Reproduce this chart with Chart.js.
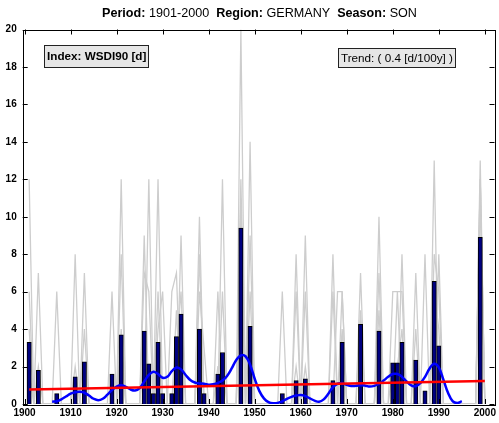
<!DOCTYPE html>
<html>
<head>
<meta charset="utf-8">
<script src="https://cdn.jsdelivr.net/npm/chart.js@4.4.0/dist/chart.umd.min.js"></script>
<style>
body { margin: 0; background: #fff; }
</style>
</head>
<body>
<canvas id="wsdi" width="499" height="423"></canvas>
<script>
// yearly regional mean (bars)
var barYears  = [1901, 1903, 1907, 1911, 1913, 1919, 1921, 1926, 1927, 1928, 1929, 1930, 1932, 1933, 1934, 1938, 1939, 1942, 1943, 1947, 1949, 1956, 1959, 1961, 1967, 1969, 1973, 1977, 1980, 1981, 1982, 1985, 1987, 1989, 1990, 1999];
var barValues = [3.3, 1.8, 0.55, 1.45, 2.25, 1.6, 3.7, 3.9, 2.15, 0.55, 3.3, 0.55, 0.55, 3.6, 4.8, 4.0, 0.55, 1.6, 2.75, 9.4, 4.15, 0.55, 1.25, 1.35, 1.25, 3.3, 4.25, 3.9, 2.2, 2.2, 3.3, 2.35, 0.7, 6.55, 3.1, 8.9];

// single stations (grey), [year, days] where not zero
var station1 = [[1901,12],[1903,7],[1907,6],[1911,8],[1913,7],[1919,6],[1921,12],[1927,12],[1929,12],[1934,9],[1938,10],[1943,12],[1947,20],[1949,14],[1956,6],[1961,9],[1967,8],[1973,7],[1977,10],[1982,8],[1985,7],[1989,13],[1999,13]];
var station2 = [[1901,6],[1921,8],[1926,9],[1929,6],[1932,6],[1933,7],[1938,8],[1942,6],[1947,11],[1949,9],[1959,8],[1961,6],[1968,6],[1969,6],[1977,7],[1981,6],[1987,8],[1990,8],[1999,12]];
var station3 = [[1901,4],[1903,2],[1913,4],[1921,4],[1926,7],[1927,6],[1929,4],[1930,6],[1933,5],[1938,6],[1939,3],[1943,6],[1947,12],[1949,6],[1959,6],[1961,2],[1967,6],[1969,6],[1973,5],[1977,5],[1980,6],[1981,6],[1982,6],[1985,4],[1989,8],[1990,6],[1999,12]];
var station4 = [[1901,2],[1911,2],[1921,3],[1926,3],[1929,3],[1933,3],[1934,6],[1938,4],[1942,2],[1943,2],[1947,10],[1949,4],[1959,2],[1969,4],[1977,4],[1980,2],[1981,2],[1982,4],[1989,6],[1990,4],[1999,11]];

// low-pass filtered mean (blue), one value per year from 1906
var smoothStart = 1906;
var smoothValues = [0.12, 0.15, 0.25, 0.4, 0.55, 0.63, 0.65, 0.6, 0.45, 0.28,
  0.2, 0.28, 0.5, 0.75, 0.93, 1.0, 0.92, 0.78, 0.72, 0.85,
  1.2, 1.55, 1.72, 1.6, 1.4, 1.45, 1.75, 1.95, 1.85, 1.55,
  1.28, 1.15, 1.1, 1.08, 1.03, 1.05, 1.12, 1.25, 1.5, 1.9,
  2.35, 2.6, 2.55, 2.1, 1.35, 0.7, 0.3, 0.1, 0.04, 0.06,
  0.14, 0.28, 0.38, 0.45, 0.48, 0.42, 0.3, 0.18, 0.12, 0.25,
  0.55, 0.9, 1.08, 1.1, 1.02, 0.96, 0.97, 1.0, 0.98, 0.93,
  0.97, 1.08, 1.25, 1.45, 1.6, 1.6, 1.45, 1.2, 1.0, 0.95,
  1.12, 1.45, 1.9, 2.15, 1.95, 1.3, 0.6, 0.15, 0.05, 0.15];

// linear trend (red)
var trendYears = [1901, 2000];
var trendValues = [0.78, 1.23];

var xTicks = [1900, 1910, 1920, 1930, 1940, 1950, 1960, 1970, 1980, 1990, 2000];
var yTicks = [0, 2, 4, 6, 8, 10, 12, 14, 16, 18, 20];

var FONT = "'Liberation Sans', Arial, Helvetica, sans-serif";

function stationSeries(spikes) {
  var pts = [];
  for (var y = 1901; y <= 2000; y++) {
    var v = 0;
    for (var i = 0; i < spikes.length; i++) {
      if (spikes[i][0] == y) v = spikes[i][1];
    }
    pts.push({ x: y, y: v });
  }
  return pts;
}

function pairs(xs, ys) {
  var pts = [];
  for (var i = 0; i < ys.length; i++) pts.push({ x: xs[i], y: ys[i] });
  return pts;
}

var smoothYears = [];
for (var i = 0; i < smoothValues.length; i++) smoothYears.push(smoothStart + i);

var datasets = [];
[station1, station2, station3, station4].forEach(function(st) {
  datasets.push({
    type: 'line',
    data: stationSeries(st),
    borderColor: '#cdcdcd',
    borderWidth: 1.3,
    pointRadius: 0,
    tension: 0,
    order: 5
  });
});
datasets.push({
  type: 'bar',
  data: pairs(barYears, barValues),
  backgroundColor: '#000080',
  borderColor: '#000000',
  borderWidth: 1,
  barThickness: 4.3,
  order: 3
});
datasets.push({
  type: 'line',
  data: pairs(smoothYears, smoothValues),
  borderColor: '#0000ff',
  borderWidth: 2.5,
  pointRadius: 0,
  tension: 0.4,
  order: 2
});
datasets.push({
  type: 'line',
  data: pairs(trendYears, trendValues),
  borderColor: '#ff0000',
  borderWidth: 2.5,
  pointRadius: 0,
  order: 1
});

function drawParts(ctx, parts, cx, cy, size) {
  var total = 0;
  parts.forEach(function(p) {
    ctx.font = (p[1] ? 'bold ' : '') + size + 'px ' + FONT;
    total += ctx.measureText(p[0]).width;
  });
  var x = cx - total / 2;
  parts.forEach(function(p) {
    ctx.font = (p[1] ? 'bold ' : '') + size + 'px ' + FONT;
    ctx.fillText(p[0], x, cy);
    x += ctx.measureText(p[0]).width;
  });
}

function textBox(ctx, txt, font, x, y, w, h) {
  ctx.fillStyle = '#e6e6e6';
  ctx.fillRect(x, y, w, h);
  ctx.strokeStyle = '#222';
  ctx.lineWidth = 1;
  ctx.strokeRect(x + 0.5, y + 0.5, w, h);
  ctx.fillStyle = '#000';
  ctx.font = font;
  ctx.textAlign = 'left';
  ctx.textBaseline = 'middle';
  ctx.fillText(txt, x + 3, y + h / 2 + 1);
}

var frame = {
  id: 'frame',
  afterDraw: function(chart) {
    var ctx = chart.ctx, a = chart.chartArea;
    var xs = chart.scales.x, ys = chart.scales.y;
    ctx.save();
    ctx.strokeStyle = '#000';
    ctx.lineWidth = 1;
    ctx.strokeRect(Math.round(a.left) + 0.5, Math.round(a.top) + 0.5,
      Math.round(a.right - a.left), Math.round(a.bottom - a.top));
    ctx.beginPath();
    xTicks.forEach(function(t) {
      var px = Math.round(xs.getPixelForValue(t)) + 0.5;
      ctx.moveTo(px, a.bottom); ctx.lineTo(px, a.bottom - 5);
      ctx.moveTo(px, a.top); ctx.lineTo(px, a.top + 5);
    });
    yTicks.forEach(function(t) {
      var py = Math.round(ys.getPixelForValue(t)) + 0.5;
      ctx.moveTo(a.left, py); ctx.lineTo(a.left + 5, py);
      ctx.moveTo(a.right, py); ctx.lineTo(a.right - 5, py);
    });
    ctx.stroke();

    ctx.fillStyle = '#000';
    ctx.textAlign = 'left';
    ctx.textBaseline = 'middle';
    drawParts(ctx, [['Period:', true], [' 1901-2000  ', false], ['Region:', true],
      [' GERMANY  ', false], ['Season:', true], [' SON', false]], 259.5, 13.5, 12.6);

    textBox(ctx, 'Index: WSDI90 [d]', 'bold 11.7px ' + FONT, 44, 45, 104, 22);
    textBox(ctx, 'Trend: ( 0.4 [d/100y] )', '11.7px ' + FONT, 338, 48, 117, 19);
    ctx.restore();
  }
};

new Chart(document.getElementById('wsdi'), {
  type: 'bar',
  data: { datasets: datasets },
  options: {
    responsive: false,
    animation: false,
    devicePixelRatio: 1,
    layout: { padding: { top: 29.5, right: 2.2, left: 0, bottom: 0 } },
    plugins: { legend: { display: false }, tooltip: { enabled: false } },
    scales: {
      x: {
        type: 'linear',
        min: 1899.6,
        max: 2002.1,
        offset: false,
        grid: { display: false, drawTicks: false },
        border: { display: false },
        afterBuildTicks: function(s) { s.ticks = xTicks.map(function(v) { return { value: v }; }); },
        afterFit: function(s) { s.height = 19; },
        ticks: {
          autoSkip: false,
          maxRotation: 0,
          padding: 3,
          color: '#000',
          font: { family: FONT, size: 10, weight: 'bold' },
          callback: function(v) { return String(v); }
        }
      },
      y: {
        min: 0,
        max: 20,
        grid: { display: false, drawTicks: false },
        border: { display: false },
        afterBuildTicks: function(s) { s.ticks = yTicks.map(function(v) { return { value: v }; }); },
        afterFit: function(s) { s.width = 22.7; },
        ticks: {
          padding: 6,
          color: '#000',
          font: { family: FONT, size: 10, weight: 'bold' }
        }
      }
    }
  },
  plugins: [frame]
});
</script>
</body>
</html>
